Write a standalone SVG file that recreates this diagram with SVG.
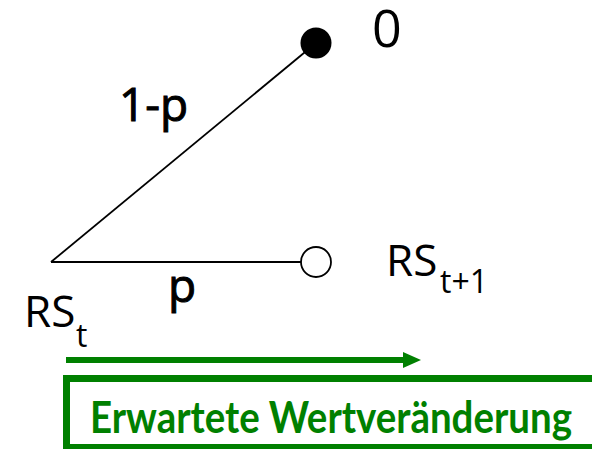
<svg xmlns="http://www.w3.org/2000/svg" width="592" height="449" viewBox="0 0 592 449">
<style>
.t{font-family:"Open Sans","DejaVu Sans",sans-serif;fill:#000}
.b{stroke:#000;stroke-width:1}
.edge{stroke:#000;stroke-width:1.8;fill:none}
.g{stroke:#008000;fill:none}
</style>
<rect width="592" height="449" fill="#fff"/>
<g id="connectors">
<line class="edge" x1="51" y1="262" x2="316" y2="43"/>
<line class="edge" x1="51" y1="262" x2="301" y2="262"/>
<text class="t b" x="119" y="121" font-size="46">1-p</text>
<text class="t b" x="168" y="302" font-size="46">p</text>
</g>
<g id="node-root">
<text class="t" x="24" y="327" font-size="44">RS</text>
<text class="t" x="76" y="347" font-size="32">t</text>
</g>
<g id="node-zero">
<circle cx="316" cy="43" r="15.5" fill="#000"/>
<text class="t" x="372" y="47" font-size="52">0</text>
</g>
<g id="node-next">
<circle cx="316" cy="262" r="15" fill="#fff" stroke="#000" stroke-width="1.8"/>
<text class="t" x="386" y="276" font-size="44">RS</text>
<text class="t" x="440" y="293" font-size="32">t+1</text>
</g>
<g id="expected-change">
<line class="g" x1="66" y1="360" x2="405" y2="360" stroke-width="6"/>
<polygon points="403,352 421,360 403,368" fill="#008000"/>
<rect class="g" x="66.5" y="378.5" width="540" height="69" stroke-width="7"/>
<text x="90" y="433" font-size="43" font-weight="bold" fill="#008000" font-family="Lato,'Open Sans',sans-serif" textLength="482" lengthAdjust="spacingAndGlyphs">Erwartete Wertveränderung</text>
</g>
</svg>
